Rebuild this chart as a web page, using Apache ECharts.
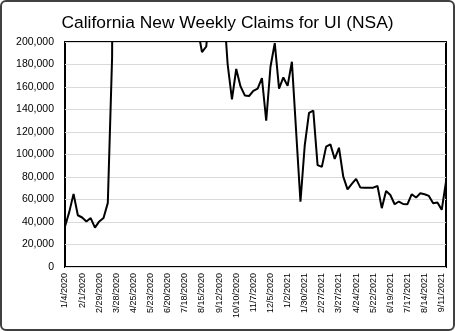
<!DOCTYPE html>
<html>
<head>
<meta charset="utf-8">
<script src="https://cdn.jsdelivr.net/npm/echarts@6/dist/echarts.min.js"></script>
<style>
html,body{margin:0;padding:0;background:#fff;}
#c{width:455px;height:331px;}
</style>
</head>
<body>
<div id="c"></div>
<script>
var titleText = 'California New Weekly Claims for UI (NSA)';

var weeks = [
'1/4/2020','1/11/2020','1/18/2020','1/25/2020',
'2/1/2020','2/8/2020','2/15/2020','2/22/2020','2/29/2020',
'3/7/2020','3/14/2020','3/21/2020','3/28/2020',
'4/4/2020','4/11/2020','4/18/2020','4/25/2020',
'5/2/2020','5/9/2020','5/16/2020','5/23/2020','5/30/2020',
'6/6/2020','6/13/2020','6/20/2020','6/27/2020',
'7/4/2020','7/11/2020','7/18/2020','7/25/2020',
'8/1/2020','8/8/2020','8/15/2020','8/22/2020','8/29/2020',
'9/5/2020','9/12/2020','9/19/2020','9/26/2020',
'10/3/2020','10/10/2020','10/17/2020','10/24/2020','10/31/2020',
'11/7/2020','11/14/2020','11/21/2020','11/28/2020',
'12/5/2020','12/12/2020','12/19/2020','12/26/2020',
'1/2/2021','1/9/2021','1/16/2021','1/23/2021','1/30/2021',
'2/6/2021','2/13/2021','2/20/2021','2/27/2021',
'3/6/2021','3/13/2021','3/20/2021','3/27/2021',
'4/3/2021','4/10/2021','4/17/2021','4/24/2021',
'5/1/2021','5/8/2021','5/15/2021','5/22/2021','5/29/2021',
'6/5/2021','6/12/2021','6/19/2021','6/26/2021',
'7/3/2021','7/10/2021','7/17/2021','7/24/2021','7/31/2021',
'8/7/2021','8/14/2021','8/21/2021','8/28/2021',
'9/4/2021','9/11/2021','9/18/2021'
];

var claims2020H1 = [
36000, 49000, 65000, 46000,
44000, 40500, 43500, 35000, 40500,
43500, 57000, 186000, 879000,
925000, 661000, 534000, 328000,
318000, 246000, 246000, 212000, 229000,
259000, 238000, 286000, 268000
];

var claims2020H2 = [
276000, 263000, 291000, 240000,
225000, 212000, 191000, 196000, 240000,
226000, 230000, 235000, 180000,
149000, 176000, 160500, 152500, 152000,
156500, 158500, 168000, 130000,
178000, 199000, 158500, 168500
];

var claims2021 = [
161000, 182500, 120000, 58000, 108000,
137000, 139000, 90500, 89000,
107000, 109000, 96000, 106000,
80300, 69000, 73800, 78300,
70600, 70400, 70400, 70500, 72000,
52300, 67600, 64000, 55800,
58200, 56000, 55800, 64700, 61700,
65600, 64700, 63200, 56700,
57300, 50800, 75900
];

var yTicks = [0, 20000, 40000, 60000, 80000, 100000, 120000, 140000, 160000, 180000, 200000];

var claims = claims2020H1.concat(claims2020H2, claims2021);

var chart = echarts.init(document.getElementById('c'), null, {renderer: 'canvas'});
chart.setOption({
  animation: false,
  backgroundColor: '#ffffff',
  title: {
    text: titleText,
    left: 'center',
    top: 10,
    textStyle: {fontFamily: 'Liberation Sans', fontSize: 17.4, fontWeight: 'normal', color: '#000'}
  },
  graphic: [{
    type: 'rect',
    shape: {x: 1, y: 1, width: 453, height: 329, r: 5},
    style: {fill: 'none', stroke: '#404040', lineWidth: 2},
    silent: true,
    z: 100
  }],
  grid: {
    left: 65, top: 42, width: 381, height: 225,
    show: true, borderColor: '#000', borderWidth: 2, backgroundColor: 'transparent'
  },
  xAxis: {
    type: 'category',
    data: weeks,
    boundaryGap: false,
    axisLine: {show: false},
    axisTick: {show: false},
    splitLine: {show: false},
    axisLabel: {
      interval: 3, rotate: 90, margin: 6,
      fontFamily: 'Liberation Sans', fontSize: 9, color: '#000'
    }
  },
  yAxis: {
    type: 'value',
    min: yTicks[0], max: yTicks[yTicks.length - 1], interval: yTicks[1] - yTicks[0],
    axisLine: {show: false},
    axisTick: {show: false},
    splitLine: {show: true, lineStyle: {color: '#d9d9d9', width: 1}},
    axisLabel: {
      margin: 11,
      fontFamily: 'Liberation Sans', fontSize: 10.5, color: '#000',
      formatter: function (v) { return v.toLocaleString('en-US'); }
    }
  },
  series: [{
    type: 'line',
    data: claims,
    showSymbol: false,
    symbol: 'none',
    clip: true,
    lineStyle: {color: '#000', width: 2},
    z: 5
  }]
});
</script>
</body>
</html>
